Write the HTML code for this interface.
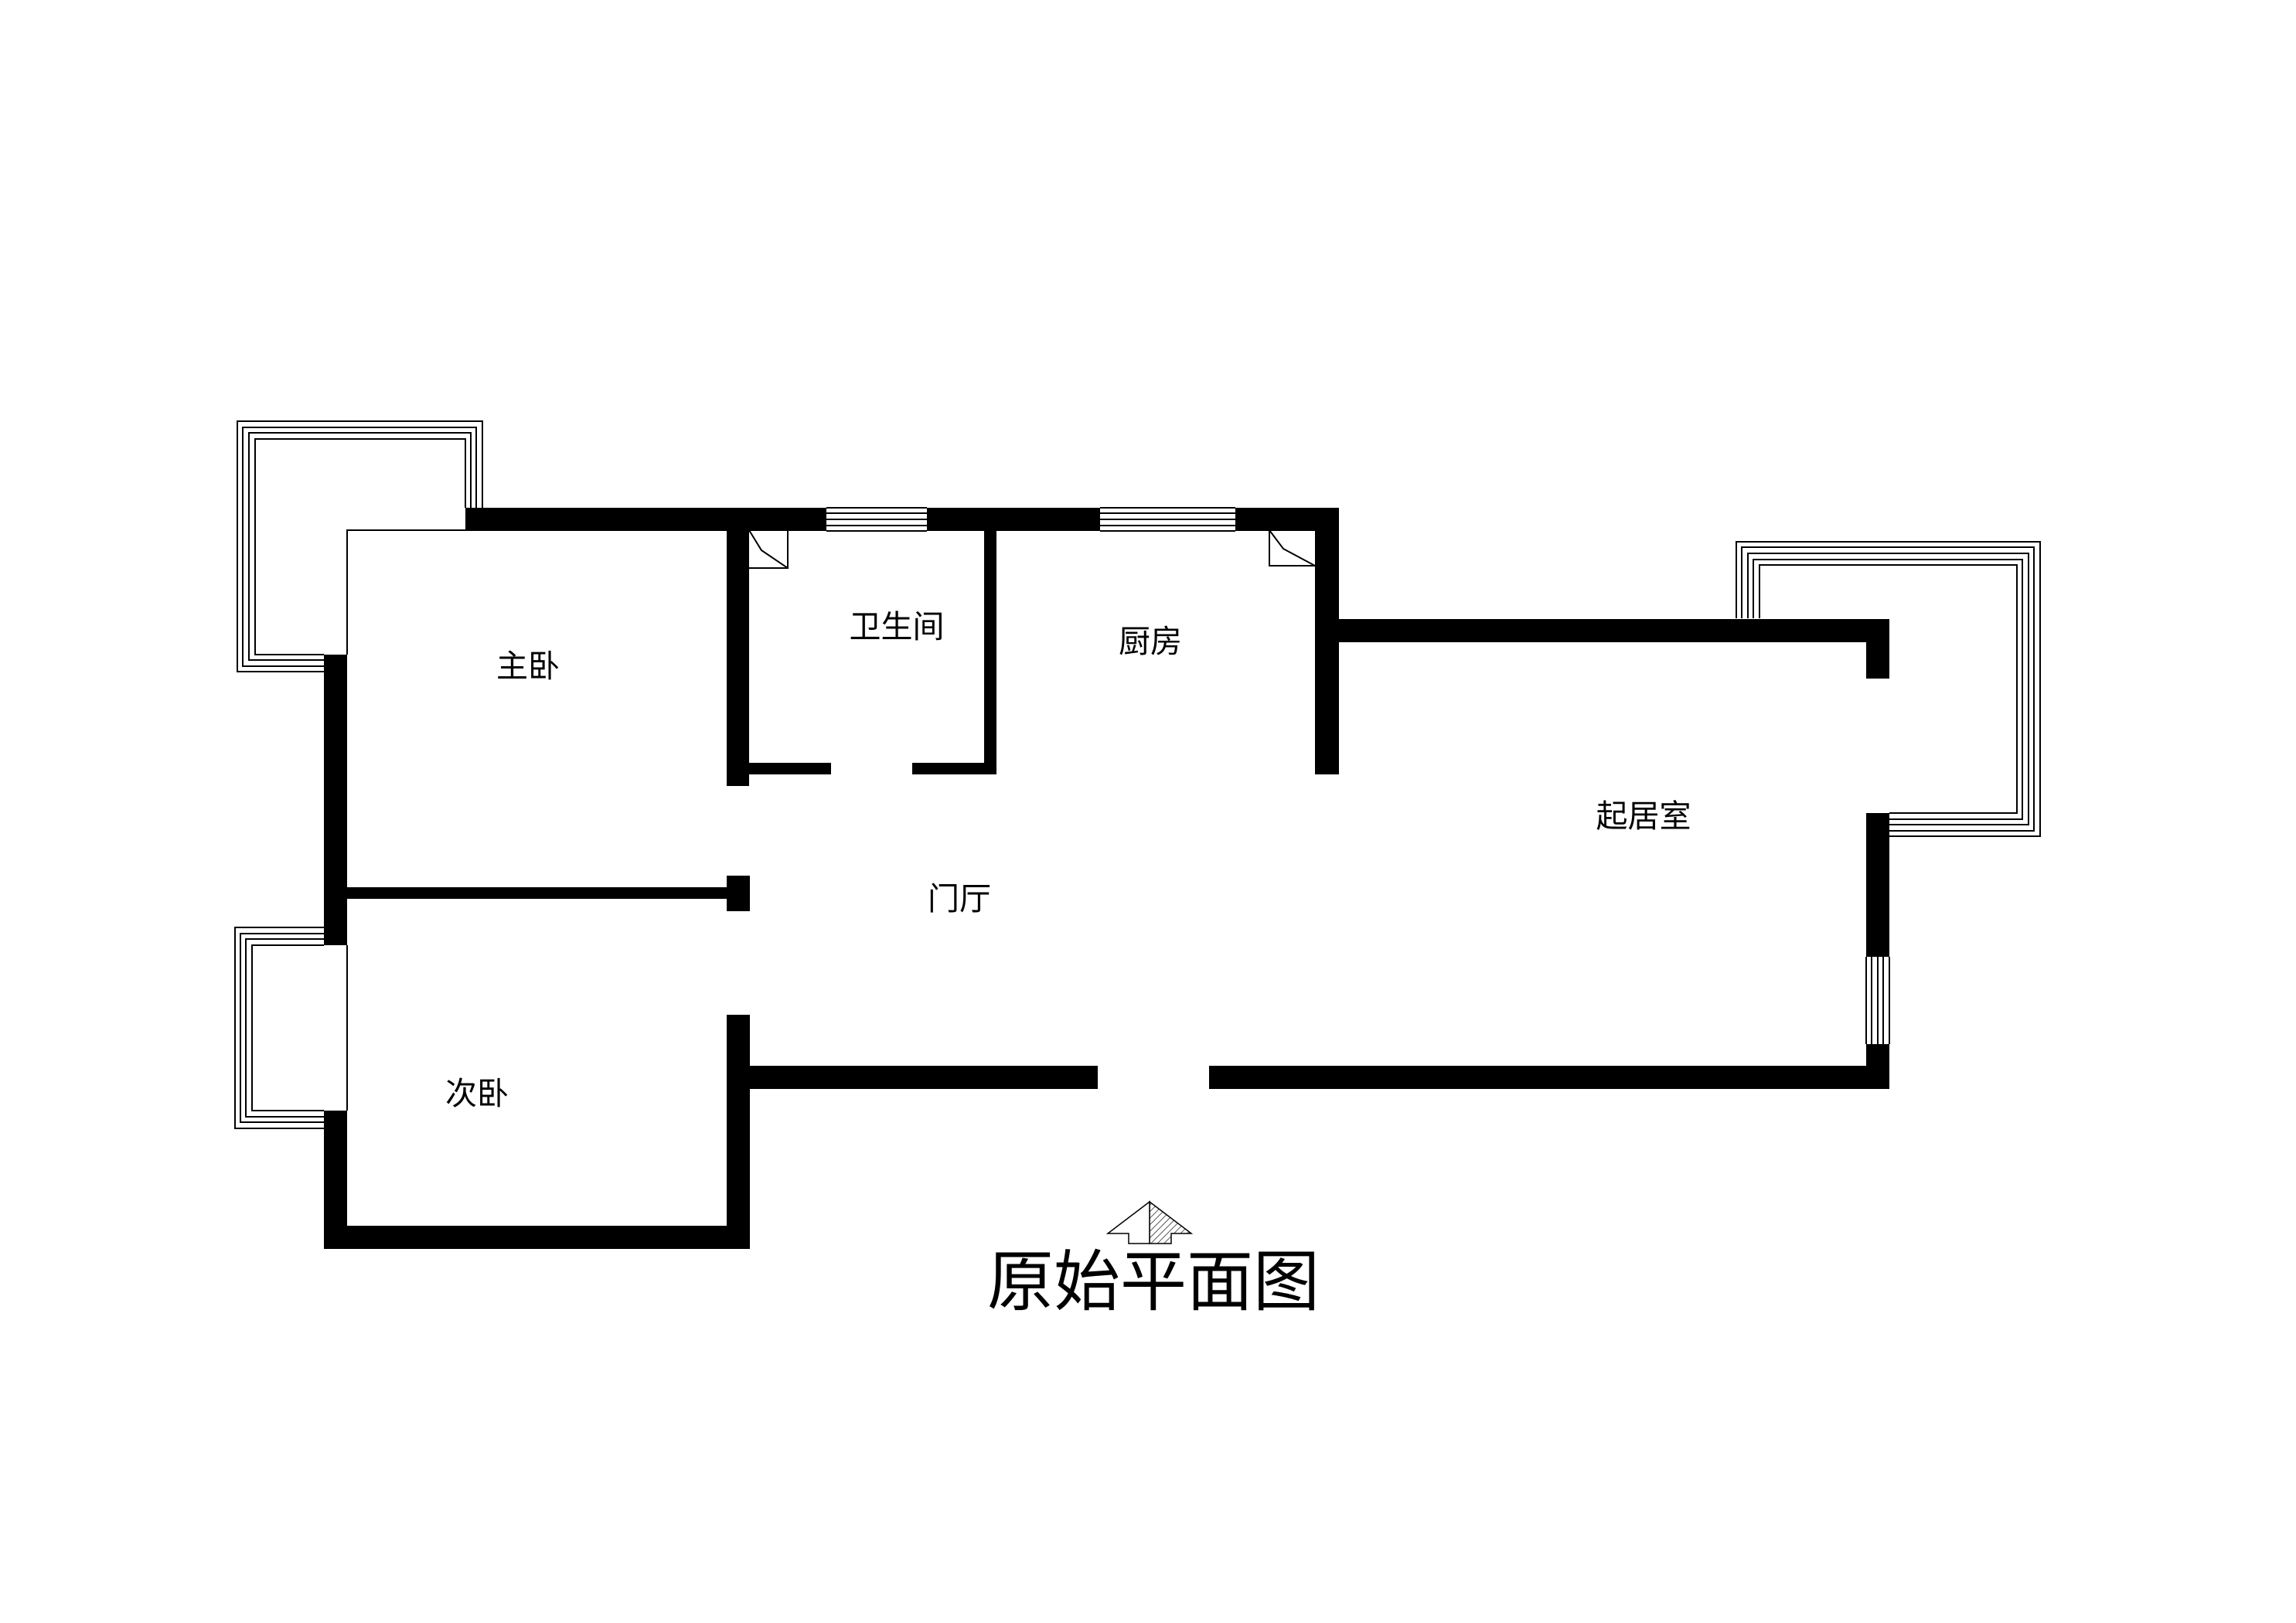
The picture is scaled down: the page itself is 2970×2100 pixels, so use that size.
<!DOCTYPE html>
<html><head><meta charset="utf-8"><style>
html,body{margin:0;padding:0;background:#fff;}
svg{display:block;}
text{font-family:"Liberation Sans","Noto Sans CJK SC",sans-serif;fill:#000;}
</style></head><body>
<svg width="2970" height="2100" viewBox="0 0 2970 2100" xmlns="http://www.w3.org/2000/svg">
<rect width="2970" height="2100" fill="#fff"/>
<g fill="none" stroke="#000" stroke-width="2">
<!-- top-left balcony -->
<path d="M419,869 H307 V545 H624 V657"/>
<path d="M419,862 H314 V553 H616 V657"/>
<path d="M419,854 H322 V560 H609 V657"/>
<path d="M419,847 H330 V568 H602 V657"/>
<!-- master bedroom thin outline -->
<path d="M449,847 V686 H602"/>
<!-- bottom-left balcony -->
<path d="M419,1200 H304 V1460 H419"/>
<path d="M419,1208 H311 V1452 H419"/>
<path d="M419,1215 H318 V1445 H419"/>
<path d="M419,1223 H326 V1437 H419"/>
<path d="M449,1223 V1437"/>
<!-- right balcony -->
<path d="M2246,800 V701 H2639 V1082 H2444"/>
<path d="M2253,800 V708 H2631 V1075 H2444"/>
<path d="M2261,800 V716 H2624 V1067 H2444"/>
<path d="M2268,800 V724 H2616 V1060 H2444"/>
<path d="M2276,800 V731 H2609 V1052 H2444"/>
<!-- windows top -->
<path d="M1069,657 H1199 M1069,664 H1199 M1069,672 H1199 M1069,680 H1199 M1069,687 H1199"/>
<path d="M1423,657 H1598 M1423,664 H1598 M1423,672 H1598 M1423,680 H1598 M1423,687 H1598"/>
<!-- right window -->
<path d="M2414,1238 V1351 M2421,1238 V1351 M2429,1238 V1351 M2436,1238 V1351 M2444,1238 V1351"/>
<!-- door swing boxes -->
<path d="M969,735 H1019 V686 M969,686 L985,712 L1019,735"/>
<path d="M1642,686 V732 H1701 M1642,686 L1660,710 L1701,732"/>
</g>
<g fill="#000">
<rect x="602" y="657" width="467" height="30"/>
<rect x="1199" y="657" width="224" height="30"/>
<rect x="1598" y="657" width="134" height="30"/>
<rect x="1701" y="657" width="31" height="345"/>
<rect x="1701" y="801" width="743" height="30"/>
<rect x="2414" y="801" width="30" height="77"/>
<rect x="2414" y="1052" width="30" height="186"/>
<rect x="2414" y="1351" width="30" height="58"/>
<rect x="1564" y="1379" width="880" height="30"/>
<rect x="969" y="1379" width="451" height="30"/>
<rect x="940" y="687" width="29" height="330"/>
<rect x="1273" y="687" width="16" height="315"/>
<rect x="969" y="987" width="106" height="15"/>
<rect x="1180" y="987" width="109" height="15"/>
<rect x="419" y="847" width="30" height="376"/>
<rect x="419" y="1437" width="30" height="179"/>
<rect x="419" y="1586" width="551" height="30"/>
<rect x="940" y="1313" width="30" height="303"/>
<rect x="449" y="1148" width="491" height="15"/>
<rect x="940" y="1133" width="30" height="46"/>
</g>
<defs>
<pattern id="h" width="6" height="6" patternUnits="userSpaceOnUse" patternTransform="rotate(45)">
<line x1="0" y1="0" x2="0" y2="6" stroke="#000" stroke-width="1.2"/>
</pattern>
</defs>
<path d="M1487,1555 L1541,1596 L1515,1596 L1515,1609 L1487,1609 Z" fill="url(#h)" stroke="#000" stroke-width="1.5"/>
<path d="M1487,1555 L1433,1596 L1460,1596 L1460,1609 L1487,1609 Z" fill="#fff" stroke="#000" stroke-width="1.5"/>
<g font-size="41" text-anchor="middle">
<text x="683" y="876">主卧</text>
<text x="1160" y="825">卫生间</text>
<text x="1488" y="844">厨房</text>
<text x="1241" y="1177">门厅</text>
<text x="617" y="1429">次卧</text>
<text x="2126" y="1070">起居室</text>
</g>
<text x="1492" y="1688" font-size="86" text-anchor="middle">原始平面图</text>
</svg>
</body></html>
